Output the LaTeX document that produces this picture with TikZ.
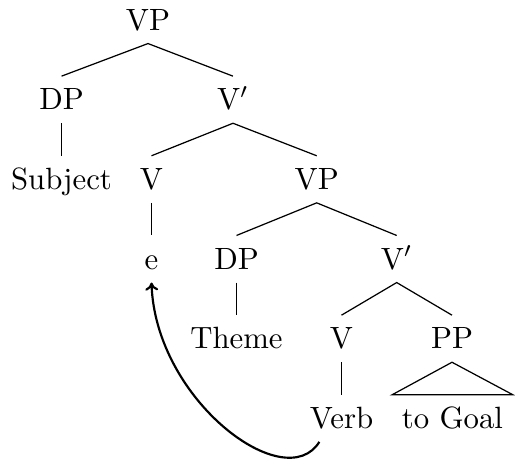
\documentclass[tikz,border=0pt]{standalone}
\usetikzlibrary{arrows.meta}
\begin{document}
\begin{tikzpicture}[x=0.325pt,y=-0.325pt,
  lbl/.style={anchor=base,inner xsep=3pt,inner ysep=3pt,text height=7.7pt,text depth=1.2pt},
  edge/.style={line width=0.4pt},
  mv/.style={line width=0.7pt,-{To[length=2.6pt,width=4.2pt]}}]
\useasboundingbox (0,0) rectangle (515,459);
% nodes
\node[lbl] (vp1) at (148,30) {VP};
\node[lbl] (dp1) at (61.5,109.7) {DP};
\node[lbl] (vb1) at (233,109.7) {V$'$};
\node[lbl] (subj) at (61.5,189.3) {Subject};
\node[lbl] (v1) at (151.5,189.3) {V};
\node[lbl] (vp2) at (316.7,189.3) {VP};
\node[lbl] (e) at (151.5,269) {e};
\node[lbl] (dp2) at (236.5,269) {DP};
\node[lbl] (vb2) at (396.7,269) {V$'$};
\node[lbl] (theme) at (236.5,348.7) {Theme};
\node[lbl] (v2) at (341.5,348.7) {V};
\node[lbl] (pp) at (452,348.7) {PP};
\node[lbl] (verb) at (341.5,428.3) {Verb};
\node[lbl] (goal) at (452.5,428.3) {to Goal};
% edges
\draw[edge] (dp1.north) -- (vp1.south) -- (vb1.north);
\draw[edge] (dp1.south) -- (subj.north);
\draw[edge] (v1.north) -- (vb1.south) -- (vp2.north);
\draw[edge] (v1.south) -- (e.north);
\draw[edge] (dp2.north) -- (vp2.south) -- (vb2.north);
\draw[edge] (dp2.south) -- (theme.north);
\draw[edge] (v2.north) -- (vb2.south) -- (pp.north);
\draw[edge] (v2.south) -- (verb.north);
\draw[edge] (goal.north west) -- (pp.south) -- (goal.north east) -- cycle;
% movement arrow
\draw[mv] ([xshift=-7.2pt]verb.south) .. controls +(-34,55) and +(4,118) .. (e.south);
\end{tikzpicture}
\end{document}
